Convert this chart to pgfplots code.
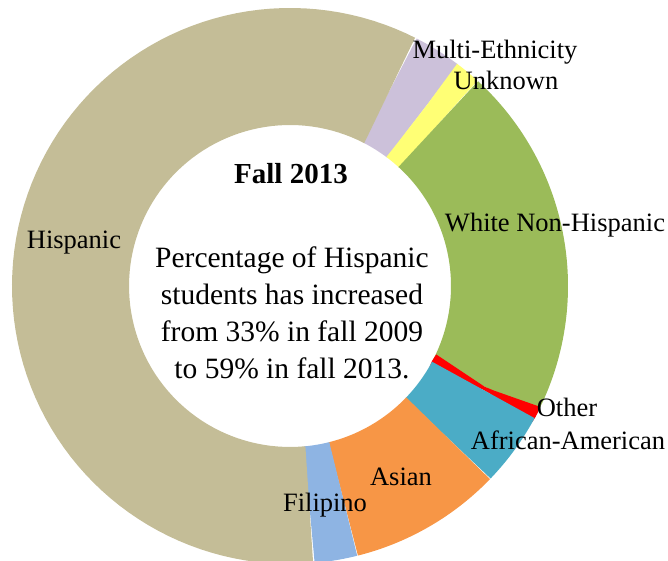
\documentclass[border=0pt]{standalone}
\usepackage{pgfplots}
\pgfplotsset{compat=1.18}
\usepackage{fontspec}
\setmainfont{Liberation Serif}

\definecolor{hisp}{HTML}{C4BD97}
\definecolor{multi}{HTML}{CCC1DA}
\definecolor{unkn}{HTML}{FFFF75}
\definecolor{white}{HTML}{9BBB59}
\definecolor{othr}{HTML}{FF0000}
\definecolor{afam}{HTML}{4BACC6}
\definecolor{asian}{HTML}{F79646}
\definecolor{filip}{HTML}{8EB4E3}

% ring: outer radius 278, inner radius 161 (axis units = pt)
\def\startangle{63}
\xdef\cum{0}
\newcommand\slice[2]{%
  \pgfmathsetmacro\aS{\startangle-3.6*\cum}%
  \pgfmathsetmacro\aE{\startangle-3.6*(\cum+#2)}%
  \edef\tmp{\noexpand\addplot[draw=#1, line width=117pt, domain=\aE:\aS, samples=90]
    ({219.5*cos(x)},{219.5*sin(x)});}%
  \tmp
  \pgfmathsetmacro\newcum{\cum+#2}\xdef\cum{\newcum}%
}

\begin{document}
\begin{tikzpicture}
\begin{axis}[
  hide axis, x=1pt, y=1pt,
  xmin=-290, xmax=378, ymin=-275, ymax=286,
]
% share of students, percent, clockwise from the top right
\slice{multi}{2.8}
\slice{unkn}{1.5}
\slice{white}{20.8}
\slice{othr}{0.25}
\slice{afam}{4.35}
\slice{asian}{8.9}
\slice{filip}{2.5}
\slice{hisp}{58.9}

\coordinate (sw) at (axis cs:-290,-275);
\coordinate (ne) at (axis cs:378,286);

\begin{scope}[font=\fontsize{26.5}{30}\selectfont]
\node at (axis cs:205,234) {Multi-Ethnicity};
\node at (axis cs:216,206) {Unknown};
\node at (axis cs:265,61) {White Non-Hispanic};
\node at (axis cs:-216,43) {Hispanic};
\node at (axis cs:277,-121) {Other};
\node at (axis cs:278,-154) {African-American};
\node at (axis cs:111,-191) {Asian};
\node at (axis cs:35,-219) {Filipino};
\node[font=\fontsize{29}{30}\selectfont\bfseries] at (axis cs:1,112) {Fall 2013};
\node[align=center, font=\fontsize{29.5}{37}\selectfont] at (axis cs:2,-27)
  {Percentage of Hispanic\\students has increased\\from 33\% in fall 2009\\to 59\% in fall 2013.};
\end{scope}
\end{axis}
\pgfresetboundingbox
\path (sw) rectangle (ne);
\end{tikzpicture}
\end{document}
